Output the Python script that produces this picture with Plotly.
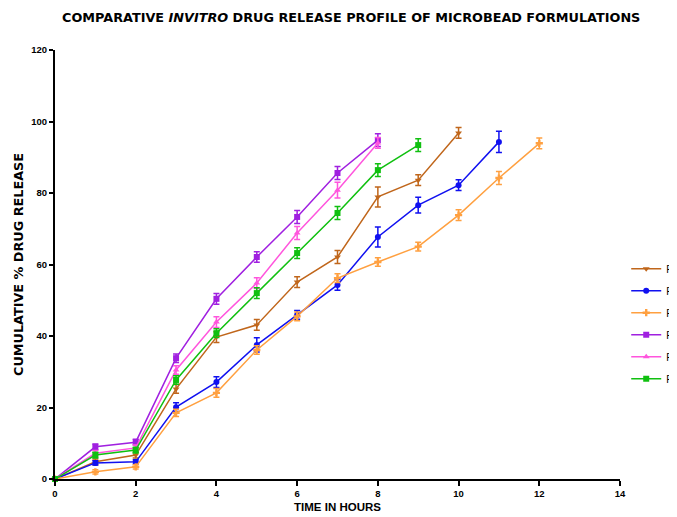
import plotly.graph_objects as go

title = "COMPARATIVE <i>INVITRO</i> DRUG RELEASE PROFILE OF MICROBEAD FORMULATIONS"
x_title = "TIME IN HOURS"
y_title = "CUMULATIVE % DRUG RELEASE"

series_names = ["F1", "F2", "F3", "F4", "F5", "F6"]
colors = ["#c0661b", "#1010f0", "#ffa040", "#a020e0", "#ff55dd", "#10c010"]
symbols = ["triangle-down", "circle", "cross", "square", "triangle-up", "square"]

times_f1 = [0, 1, 2, 3, 4, 5, 6, 7, 8, 9, 10]
f1 = [0, 4.8, 6.7, 25.2, 39.7, 43.1, 55.1, 62.1, 78.9, 83.6, 96.8]
f1_err = [0, 0.8, 0.8, 1.2, 1.5, 1.5, 1.5, 1.8, 2.8, 1.5, 1.5]

times_f2 = [0, 1, 2, 3, 4, 5, 6, 7, 8, 9, 10, 11]
f2 = [0, 4.5, 4.8, 20.1, 27.1, 37.5, 45.9, 54.3, 67.7, 76.6, 82.2, 94.3]
f2_err = [0, 0.6, 0.6, 1.2, 1.5, 2.0, 1.2, 1.5, 2.8, 2.2, 1.5, 3.0]

times_f3 = [0, 1, 2, 3, 4, 5, 6, 7, 8, 9, 10, 11, 12]
f3 = [0, 2.0, 3.4, 18.5, 24.1, 36.1, 45.5, 56.2, 60.7, 65.0, 73.8, 84.2, 93.9]
f3_err = [0, 0.6, 0.6, 1.0, 1.2, 1.2, 1.2, 1.2, 1.2, 1.2, 1.5, 1.8, 1.5]

times_f4 = [0, 1, 2, 3, 4, 5, 6, 7, 8]
f4 = [0, 9.0, 10.3, 33.8, 50.4, 62.1, 73.3, 85.6, 94.8]
f4_err = [0, 0.8, 0.8, 1.2, 1.5, 1.5, 1.8, 1.8, 1.8]

times_f5 = [0, 1, 2, 3, 4, 5, 6, 7, 8]
f5 = [0, 7.2, 8.7, 30.5, 43.9, 54.8, 68.8, 80.8, 94.0]
f5_err = [0, 0.8, 0.8, 1.2, 1.5, 1.5, 1.8, 2.2, 1.5]

times_f6 = [0, 1, 2, 3, 4, 5, 6, 7, 8, 9]
f6 = [0, 6.7, 8.1, 27.7, 40.8, 52.0, 63.2, 74.4, 86.4, 93.4]
f6_err = [0, 0.8, 0.8, 1.2, 1.2, 1.5, 1.5, 1.8, 1.8, 1.8]

x_ticks = [0, 2, 4, 6, 8, 10, 12, 14]
y_ticks = [0, 20, 40, 60, 80, 100, 120]

all_times = [times_f1, times_f2, times_f3, times_f4, times_f5, times_f6]
all_vals = [f1, f2, f3, f4, f5, f6]
all_errs = [f1_err, f2_err, f3_err, f4_err, f5_err, f6_err]

FONT = "Liberation Sans"
WIDE = "DejaVu Sans"

fig = go.Figure()
for i, name in enumerate(series_names):
    fig.add_trace(go.Scatter(
        x=all_times[i], y=all_vals[i], name=name, mode="lines+markers",
        legendgroup=name,
        line=dict(color=colors[i], width=1.5),
        marker=dict(symbol=symbols[i], size=6, color=colors[i]),
        error_y=dict(type="data", array=all_errs[i], visible=True,
                     color=colors[i], thickness=1.5, width=3),
        cliponaxis=False,
    ))

# page has an 8px body margin, so the figure is sized to the visible area
W, H = 669, 509
fig.update_layout(
    width=W, height=H,
    paper_bgcolor="white", plot_bgcolor="white",
    margin=dict(l=47, r=57, t=42, b=38, autoexpand=False),
    title=dict(text="<b>" + title + "</b>", x=0.513, xanchor="center",
               y=1 - 10 / H, yanchor="middle",
               font=dict(family=WIDE, size=12.8, color="black")),
    font=dict(family=FONT, color="black"),
    legend=dict(x=1.011, xanchor="left", y=0.524, yanchor="top",
                font=dict(family=FONT, size=10, color="black"),
                bgcolor="rgba(0,0,0,0)", tracegroupgap=3,
                traceorder="grouped"),
    xaxis=dict(range=[0, 14], tickvals=x_ticks,
               ticktext=["<b>%d</b>" % v for v in x_ticks],
               showgrid=False, zeroline=False, showline=True,
               linecolor="black", linewidth=2, ticks="outside",
               ticklen=5, tickwidth=2, tickcolor="black",
               tickfont=dict(family=FONT, size=9.5, color="black"),
               title=dict(text="<b>" + x_title + "</b>", standoff=5,
                          font=dict(family=FONT, size=11.5, color="black"))),
    yaxis=dict(range=[0, 120], tickvals=y_ticks,
               ticktext=["<b>%d</b>" % v for v in y_ticks],
               showgrid=False, zeroline=False, showline=True,
               linecolor="black", linewidth=2, ticks="outside",
               ticklen=4, tickwidth=2, tickcolor="black",
               tickfont=dict(family=FONT, size=9.5, color="black"),
               title=dict(text="<b>" + y_title + "</b>", standoff=5,
                          font=dict(family=WIDE, size=12.8, color="black"))),
)

fig.write_html("out.html")
